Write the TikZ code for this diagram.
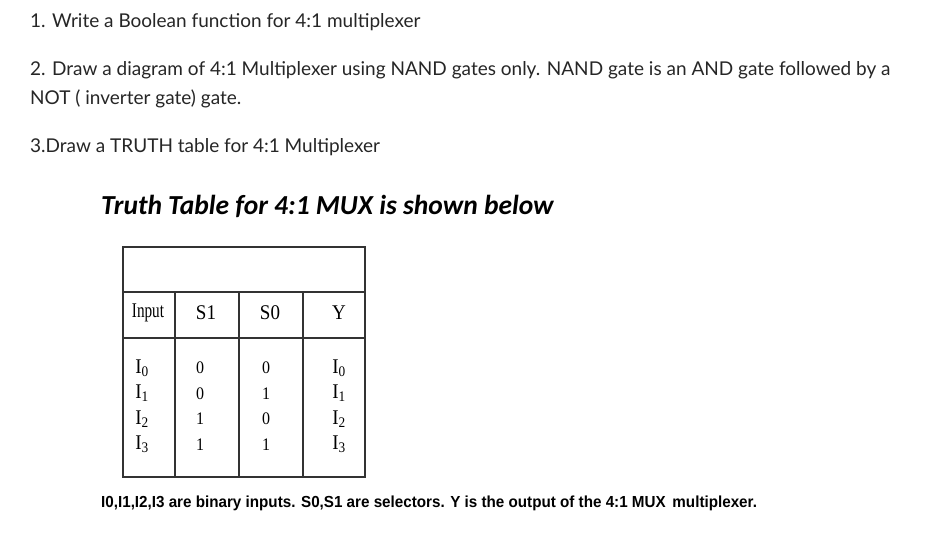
\documentclass[tikz,border=0pt]{standalone}
\usepackage{fontspec}
\setmainfont{Lato}
\newfontfamily\calfnt{Carlito}
\newfontfamily\tms{Liberation Serif}
\newfontfamily\ars{Liberation Sans}
\begin{document}
\begin{tikzpicture}[x=1pt,y=-1pt,
  txt/.style={anchor=base west,inner sep=0,font=\fontsize{19}{22}\selectfont,text=black!85},
  tb/.style={inner sep=0,font=\tms\fontsize{19}{20}\selectfont,yscale=1.1},
  grid/.style={draw=black!80,line width=1.2pt}]
\useasboundingbox (0,0) rectangle (936,539);
\fill[white] (0,0) rectangle (936,539);
\node[txt] (l1) at (30,27) {1. Write a Boolean function for 4:1 multiplexer};
\node[txt] (l2) at (30,75) {2. Draw a diagram of 4:1 Multiplexer using NAND gates only. NAND gate is an AND gate followed by a};
\node[txt] (l3) at (30,104) {NOT ( inverter gate) gate.};
\node[txt] (l4) at (30,152) {3.Draw a TRUTH table for 4:1 Multiplexer};
\node[anchor=base west,inner sep=0,font=\calfnt\bfseries\itshape\fontsize{27.5}{30}\selectfont] (title) at (101,214) {Truth Table for 4:1 MUX is shown below};
\draw[grid] (123,247) rectangle (365,477);
\draw[grid] (123,292) -- (365,292) (123,338) -- (365,338);
\draw[grid] (175,292) -- (175,477) (239,292) -- (239,477) (303,292) -- (303,477);
\node[tb,xscale=0.8] (h1) at (148,313) {Input};
\node[tb] (h2) at (206,313) {S1};
\node[tb] (h3) at (270,313) {S0};
\node[tb] (h4) at (339,313) {Y};
\foreach \i/\a/\b in {0/0/0,1/0/1,2/1/0,3/1/1}{
  \node[tb] (ia\i) at (142,368+25.5*\i) {I\textsubscript{\i}};
  \node[tb,font=\tms\fontsize{16}{16}\selectfont] (s1\i) at (200,368+25.5*\i) {\a};
  \node[tb,font=\tms\fontsize{16}{16}\selectfont] (s0\i) at (266,368+25.5*\i) {\b};
  \node[tb] (y\i) at (339,368+25.5*\i) {I\textsubscript{\i}};
}
\node[anchor=base west,inner sep=0,font=\ars\bfseries\fontsize{16}{18}\selectfont,xscale=0.95] (foot) at (101,507) {I0,I1,I2,I3 are binary inputs. S0,S1 are selectors. Y is the output of the 4:1 MUX\, multiplexer.};
\end{tikzpicture}
\end{document}
